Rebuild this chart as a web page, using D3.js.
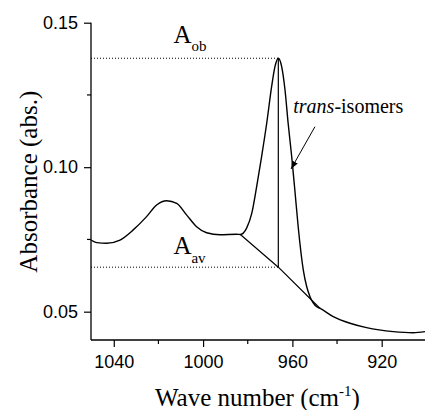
<!DOCTYPE html>
<html>
<head>
<meta charset="utf-8">
<script src="https://cdn.jsdelivr.net/npm/d3@7"></script>
<style>
  html, body { margin: 0; padding: 0; background: #fff; }
  svg { display: block; }
</style>
</head>
<body>
<svg id="chart" width="425" height="410"></svg>
<script>
// ---- data ----
const waveNumbers = [1050.2, 1047.6, 1043.2, 1037.2, 1031.3, 1025.3, 1020.8, 1016.3, 1011.8, 1007.4,
  1002.9, 998.4, 992.4, 985.0, 983.3, 980.5, 978.2, 976.0, 973.8, 971.5,
  969.3, 967.8, 966.3, 964.8, 963.3, 961.9, 960.3, 958.9, 957.4, 955.1,
  953.6, 952.1, 949.1, 947.7, 941.7, 934.2, 926.8, 914.8, 905.9, 900.6];
const absorbance = [0.0748, 0.0739, 0.0737, 0.0748, 0.0783, 0.0829, 0.0869, 0.0884, 0.0875, 0.0835,
  0.0794, 0.0773, 0.0766, 0.0768, 0.0767, 0.0789, 0.0840, 0.0933, 0.1036, 0.1152,
  0.1279, 0.1348, 0.1377, 0.1348, 0.1267, 0.1152, 0.1036, 0.0921, 0.0794, 0.0644,
  0.0587, 0.0552, 0.0517, 0.0512, 0.0483, 0.0460, 0.0445, 0.0431, 0.0427, 0.0431];
const baselineX = [983.3, 966.3, 947.7];
const baselineY = [0.0767, 0.0654, 0.0512];
const peakX = 966.3;
const peakA = 0.1377;   // A_ob
const baseA = 0.0654;   // A_av
const xMajorTicks = [1040, 1000, 960, 920];
const xMinorTicks = [1020, 980, 940];
const yMajorTicks = [0.05, 0.10, 0.15];
const yMinorTicks = [0.075, 0.125];
const xDomain = [1050.2, 900.6];
const yDomain = [0.0402, 0.15];
// annotation anchors (data units)
const labelAob = {x: 1013.3, y: 0.1429};
const labelAav = {x: 1013.3, y: 0.0700};
const labelTrans = {x: 959.6, y: 0.1189};
const arrowFrom = {x: 949.9, y: 0.1140};
const arrowTo = {x: 960.6, y: 0.0994};

// ---- chart ----
const svg = d3.select("#chart");
const x = d3.scaleLinear().domain(xDomain).range([91, 425]);
const y = d3.scaleLinear().domain(yDomain).range([340, 22.7]);

const defs = svg.append("defs");
defs.append("marker").attr("id", "arrow")
  .attr("viewBox", "0 0 10 10").attr("refX", 10).attr("refY", 5)
  .attr("markerWidth", 8).attr("markerHeight", 8)
  .attr("markerUnits", "userSpaceOnUse")
  .attr("orient", "auto")
  .append("path").attr("d", "M0,1 L10,5 L0,9 Z").attr("fill", "#000");

const tickFont = "'Liberation Sans', Arial, sans-serif";
const serif = "'Liberation Serif', 'Times New Roman', serif";

// x axis
const gx = svg.append("g").attr("transform", "translate(0,340)")
  .call(d3.axisBottom(x).tickValues(xMajorTicks).tickSize(7).tickPadding(8).tickFormat(d3.format("d")));
gx.append("g").selectAll("line").data(xMinorTicks).join("line")
  .attr("x1", d => x(d)).attr("x2", d => x(d)).attr("y1", 0).attr("y2", 4).attr("stroke", "#000").attr("stroke-width", 1.2);
// y axis
const gy = svg.append("g").attr("transform", "translate(91,0)")
  .call(d3.axisLeft(y).tickValues(yMajorTicks).tickSize(7).tickPadding(6).tickFormat(d3.format(".2f")));
gy.append("g").selectAll("line").data(yMinorTicks).join("line")
  .attr("y1", d => y(d)).attr("y2", d => y(d)).attr("x1", 0).attr("x2", -4).attr("stroke", "#000").attr("stroke-width", 1.2);

[gx, gy].forEach(g => {
  g.select(".domain").attr("stroke", "#000").attr("stroke-width", 1.3)
    .attr("d", g === gx ? `M${x.range()[0]},0H${x.range()[1]}` : `M0,${y.range()[1]}V${y.range()[0]}`);
  g.selectAll(".tick line").attr("stroke", "#000").attr("stroke-width", 1.2);
  g.selectAll("text").attr("font-family", tickFont).attr("font-size", 18).attr("fill", "#000");
});

// dotted reference lines
svg.append("line").attr("x1", x(xDomain[0])).attr("x2", x(peakX))
  .attr("y1", y(peakA)).attr("y2", y(peakA))
  .attr("stroke", "#000").attr("stroke-width", 1).attr("stroke-dasharray", "1,2");
svg.append("line").attr("x1", x(xDomain[0])).attr("x2", x(peakX))
  .attr("y1", y(baseA)).attr("y2", y(baseA))
  .attr("stroke", "#000").attr("stroke-width", 1).attr("stroke-dasharray", "1,2");

// vertical peak height line
svg.append("line").attr("x1", x(peakX)).attr("x2", x(peakX))
  .attr("y1", y(baseA)).attr("y2", y(peakA))
  .attr("stroke", "#000").attr("stroke-width", 1.2);

// baseline
const bl = baselineX.map((d, i) => [d, baselineY[i]]);
svg.append("path").datum(bl)
  .attr("d", d3.line().x(d => x(d[0])).y(d => y(d[1])))
  .attr("fill", "none").attr("stroke", "#000").attr("stroke-width", 1.2);

// spectrum
const pts = waveNumbers.map((d, i) => [d, absorbance[i]]);
svg.append("path").datum(pts)
  .attr("d", d3.line().x(d => x(d[0])).y(d => y(d[1])).curve(d3.curveMonotoneX))
  .attr("fill", "none").attr("stroke", "#000").attr("stroke-width", 1.4);

// labels
const tAob = svg.append("text").attr("x", x(labelAob.x)).attr("y", y(labelAob.y))
  .attr("font-family", serif).attr("font-size", 25).attr("fill", "#000");
tAob.append("tspan").text("A");
tAob.append("tspan").attr("dy", 7.4).attr("font-size", 15).text("ob");

const tAav = svg.append("text").attr("x", x(labelAav.x)).attr("y", y(labelAav.y))
  .attr("font-family", serif).attr("font-size", 25).attr("fill", "#000");
tAav.append("tspan").text("A");
tAav.append("tspan").attr("dy", 8.7).attr("font-size", 15).text("av");

const tTr = svg.append("text").attr("x", x(labelTrans.x)).attr("y", y(labelTrans.y))
  .attr("font-family", serif).attr("font-size", 20).attr("fill", "#000");
tTr.append("tspan").attr("font-style", "italic").text("trans");
tTr.append("tspan").text("-isomers");

svg.append("line").attr("x1", x(arrowFrom.x)).attr("y1", y(arrowFrom.y))
  .attr("x2", x(arrowTo.x)).attr("y2", y(arrowTo.y))
  .attr("stroke", "#000").attr("stroke-width", 1).attr("marker-end", "url(#arrow)");

// axis titles
const xt = svg.append("text").attr("x", 155).attr("y", 406)
  .attr("font-family", serif).attr("font-size", 25).attr("fill", "#000");
xt.append("tspan").text("Wave number (cm");
xt.append("tspan").attr("font-size", 15).attr("dy", -10).text("-1");
xt.append("tspan").attr("dy", 10).text(")");

svg.append("text").attr("transform", "translate(36.5,181.7) rotate(-90)")
  .attr("text-anchor", "middle").attr("font-family", serif).attr("font-size", 25).attr("fill", "#000")
  .text("Absorbance (abs.)");
</script>
</body>
</html>
